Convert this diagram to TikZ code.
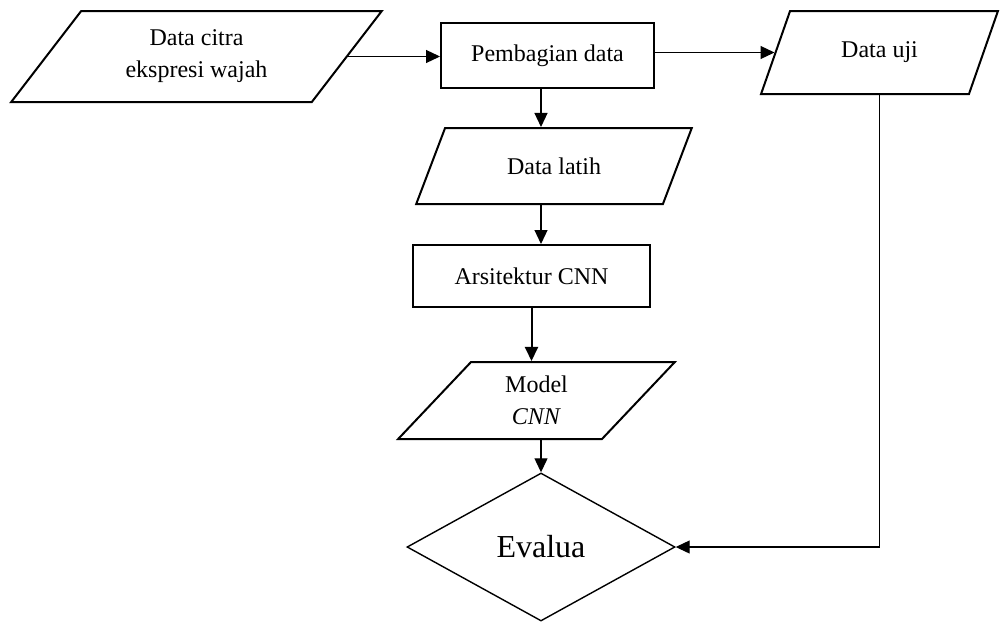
\documentclass[tikz,border=0pt]{standalone}
\usepackage{fontspec}
\setmainfont{Liberation Serif}
\usetikzlibrary{arrows.meta,shapes.geometric}

\begin{document}
\begin{tikzpicture}[
  x=0.5pt, y=-0.5pt,
  io/.style={trapezium, trapezium stretches=true, draw, line width=1pt, inner sep=0pt, align=center, font=\fontsize{12}{16}\selectfont},
  process/.style={draw, rectangle, line width=1pt, inner sep=0pt, align=center, font=\fontsize{12}{16}\selectfont},
  decision/.style={diamond, draw, line width=0.7pt, inner sep=0pt, font=\fontsize{16}{19}\selectfont},
  flow/.style={-{Triangle[length=7pt,width=6.5pt]}, line width=0.6pt, draw=black},
]
\useasboundingbox (0,0) rectangle (1000,621);

% Input and split
\node[io, trapezium left angle=50.9, trapezium right angle=129.1, minimum width=185.5pt, minimum height=45.5pt] (citra) at (196.5,56.5) {Data citra\\ekspresi wajah};
\node[process, minimum width=106.5pt, minimum height=32.5pt] (pemb) at (547.5,55.5) {Pembagian data};
\node[io, trapezium left angle=59.4, trapezium right angle=120.6, minimum width=118.5pt, minimum height=41.5pt] (uji) at (879.5,52.5) {Data uji};

% Training branch
\node[io, trapezium left angle=53.6, trapezium right angle=126.4, minimum width=138pt, minimum height=38pt] (latih) at (554,166) {Data latih};
\node[process, minimum width=118.5pt, minimum height=31pt] (arch) at (531.5,276) {Arsitektur CNN};
\node[io, trapezium left angle=54.5, trapezium right angle=125.5, minimum width=138.5pt, minimum height=38.5pt] (model) at (536.5,400.5) {Model\\\textit{CNN}};

% Evaluation
\node[decision, minimum width=134pt, minimum height=74pt] (eval) at (541,547) {Evalua};

\draw[flow] (citra.east) -- (citra.east -| pemb.west);
\draw[flow] (pemb.east |- uji.west) -- (uji.west);
\draw[flow] (pemb.south -| eval.north) -- (latih.north -| eval.north);
\draw[flow] (latih.south -| eval.north) -- (arch.north -| eval.north);
\draw[flow, line width=1pt] (arch.south) -- (model.north -| arch.south);
\draw[flow] (model.south -| eval.north) -- (eval.north);
\draw[flow] (uji.south) |- (eval.east);

\end{tikzpicture}
\end{document}
